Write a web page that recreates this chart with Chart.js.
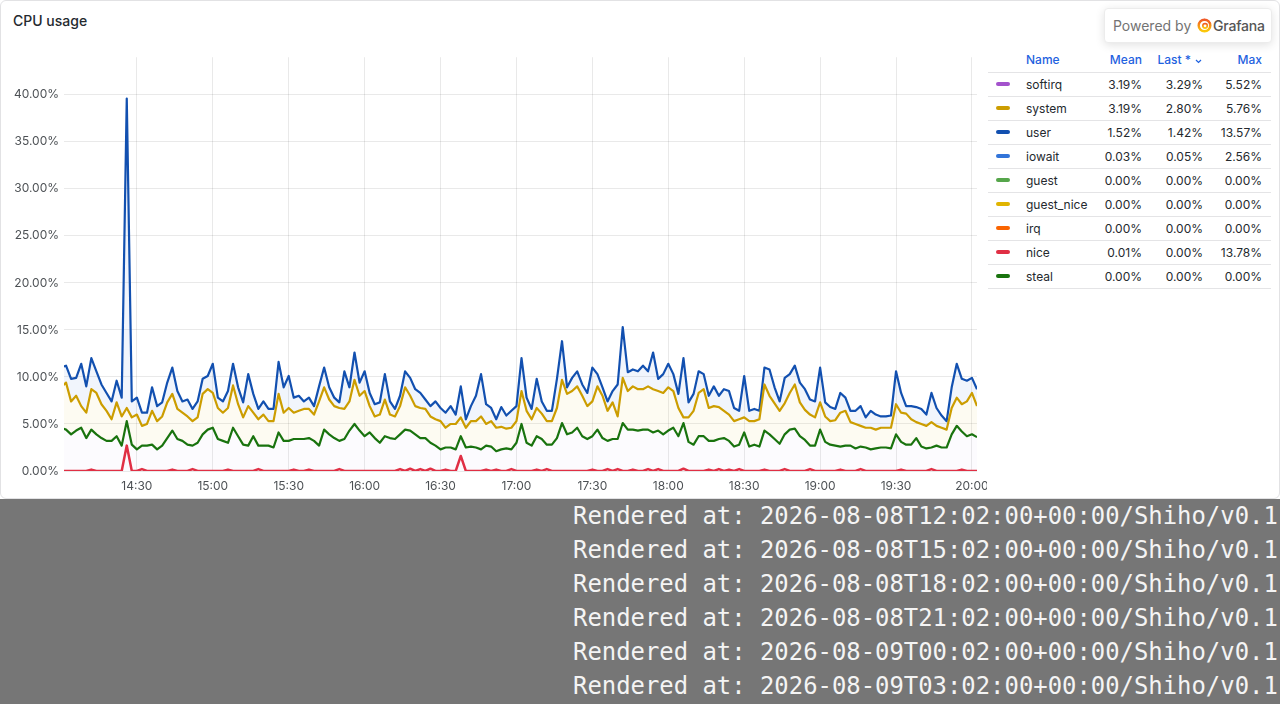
<!DOCTYPE html>
<html>
<head>
<meta charset="utf-8">
<script src="https://cdn.jsdelivr.net/npm/chart.js@4.4.1/dist/chart.umd.min.js"></script>
<style>
  html, body { margin:0; padding:0; background:#ffffff; width:1280px; height:704px; overflow:hidden; font-family: Inter, "Noto Sans", sans-serif; }
  #panel { position:absolute; left:0; top:0; width:1278px; height:497px; border:1px solid #e2e2e4; border-radius:6px; background:#fff; overflow:hidden; }
  #title { position:absolute; left:12px; top:11px; font-size:14px; font-weight:500; color:#24292e; }
  #chartwrap { position:absolute; left:-1px; top:44px; width:987px; height:454px; overflow:hidden; }
  #badge { position:absolute; left:1103px; top:7px; width:166px; height:33px; border:1px solid #ececec; border-radius:4px; background:#fff; box-shadow:0 2px 10px rgba(0,0,0,0.12); font-size:14px; color:#737373; }
  #badge .pb { position:absolute; left:8px; top:8px; }
  #badge svg { position:absolute; left:92px; top:9px; }
  #badge .gf { position:absolute; left:108px; top:8px; color:#555; font-weight:500; letter-spacing:-0.2px; }
  #legend { position:absolute; left:987px; top:46px; width:283px; border-collapse:collapse; table-layout:fixed; font-size:12px; color:#24292e; }
  #legend th, #legend td { box-sizing:border-box; padding:0; white-space:nowrap; }
  #legend th { height:25px; font-weight:500; color:#1f62e0; border-bottom:1px solid #e4e4e6; }
  #legend td { height:24px; border-bottom:1px solid #e4e4e6; }
  #legend .c1 { width:30px; }
  #legend .c2 { width:82px; text-align:left; padding-left:8px; }
  #legend .c3 { width:50px; text-align:right; padding-right:8px; }
  #legend .c4 { width:61px; text-align:right; padding-right:8px; }
  #legend .c5 { width:60px; text-align:right; padding-right:9px; }
  .sw { display:block; margin-left:8px; width:14px; height:4px; border-radius:2px; }
  #footer { position:absolute; left:0; top:499px; width:1280px; height:205px; background:#767676; overflow:hidden; }
  #footer .ln { position:absolute; left:573px; white-space:pre; font-family:"DejaVu Sans Mono", monospace; font-size:23.9px; line-height:34px; color:#f4f4f4; }
</style>
</head>
<body>
<div id="panel">
  <div id="title">CPU usage</div>
  <div id="chartwrap"><canvas id="c" width="1000" height="454" style="width:1000px;height:454px"></canvas></div>
  <div id="badge"><span class="pb">Powered by</span>
    <svg width="15" height="15" viewBox="0 0 16 16"><defs><linearGradient id="gg" x1="0" y1="1" x2="0" y2="0"><stop offset="0" stop-color="#fbca0a"/><stop offset="1" stop-color="#f05a28"/></linearGradient></defs><circle cx="8" cy="8" r="6.2" fill="none" stroke="url(#gg)" stroke-width="2.6"/><circle cx="8.6" cy="8.3" r="2.4" fill="none" stroke="url(#gg)" stroke-width="1.8"/><path d="M8 0.6 L9.4 2.6 L6.6 2.6 Z M14.6 5 L13 6.6 L12.6 4 Z" fill="#f05a28"/></svg>
    <span class="gf">Grafana</span></div>
  <table id="legend"><thead></thead><tbody></tbody></table>
</div>
<div id="footer"></div>
<script>
// ---- time grid (minutes since midnight) ----
const START_MIN = 840;   // 14:00
const STEP_MIN = 2;
const X_MIN = 841.2;
const X_MAX = 1202;
const Y_MAX = 44;
const xTickMinutes = [870, 900, 930, 960, 990, 1020, 1050, 1080, 1110, 1140, 1170, 1200];
const yTickValues = [0, 5, 10, 15, 20, 25, 30, 35, 40];

// ---- series values (%) ----
const userVals = [
 11.0,11.2,9.8,9.9,11.4,9.0,12.0,10.6,9.2,8.3, 7.4,9.6,7.8,39.6,7.4,7.8,6.2,6.2,8.9,6.9,
 7.3,9.4,11.0,8.5,7.4,7.6,6.6,7.4,9.8,10.1, 11.4,7.8,7.4,8.5,11.4,8.9,7.3,10.3,8.2,6.6,
 7.4,6.6,6.6,11.6,8.9,10.1,7.8,8.0,7.4,7.8, 6.9,9.0,11.0,8.9,7.8,7.3,10.6,8.9,12.6,9.4,
 10.6,8.3,7.1,7.3,10.3,7.4,6.6,8.0,10.6,9.9, 8.7,8.3,7.6,6.9,7.4,6.7,6.2,6.9,6.0,9.0,
 5.5,6.9,8.0,10.3,7.1,6.7,5.5,6.8,5.9,6.4, 6.9,12.0,7.8,6.6,9.8,7.4,6.4,6.4,9.8,13.8,
 8.9,9.9,10.6,9.2,8.3,11.0,10.3,8.9,7.4,8.5, 9.2,15.3,10.5,10.8,10.6,11.2,10.6,12.6,9.8,10.3,
 11.4,10.3,8.2,12.0,7.3,8.2,10.6,10.3,8.0,9.0, 8.0,8.7,8.5,6.7,6.4,10.1,6.4,6.6,6.4,11.0,
 10.8,8.9,7.4,9.9,10.3,11.2,9.4,8.7,7.6,7.4, 11.0,7.3,6.8,6.6,8.3,7.8,6.4,6.4,6.9,5.7,
 6.4,6.0,5.8,5.8,5.9,10.6,8.3,6.9,6.9,6.8, 6.6,6.0,8.3,6.7,5.9,5.3,8.9,11.4,9.8,9.6,
 9.9,8.7
];
const systemVals = [
 8.9,9.4,7.4,8.0,6.9,6.2,8.7,8.3,7.1,6.4, 5.5,7.3,5.8,6.7,5.7,6.0,4.8,5.0,6.4,5.3,
 5.8,7.3,8.2,6.6,6.2,5.8,5.3,5.7,8.2,8.7, 8.3,6.7,6.2,6.7,9.1,7.1,5.7,6.9,6.2,5.5,
 6.0,5.3,5.3,8.2,6.2,6.7,6.2,6.4,6.6,6.6, 6.0,7.4,8.9,7.6,6.9,6.7,6.6,7.4,9.7,8.0,
 8.5,6.9,5.8,6.0,7.6,6.0,5.8,6.9,8.9,8.0, 6.9,6.7,6.6,5.8,5.5,5.3,4.6,5.0,5.0,5.7,
 4.6,5.3,5.3,5.8,5.0,5.3,4.6,4.7,4.5,4.6, 5.3,8.5,6.4,5.5,6.7,6.1,5.3,5.3,6.7,9.7,
 8.2,8.5,9.0,8.0,6.9,7.4,9.0,8.0,6.4,7.3, 5.8,9.9,8.5,9.0,8.7,8.7,9.0,8.7,8.5,8.3,
 8.9,8.5,6.7,5.7,5.7,6.4,8.3,8.7,6.7,6.9, 6.8,6.4,6.0,5.3,5.5,5.7,5.3,5.3,5.5,9.2,
 8.0,7.2,6.4,7.2,8.3,9.2,7.3,6.5,6.0,5.7, 7.3,5.8,5.3,5.4,6.2,6.4,5.2,5.0,4.8,4.6,
 4.6,4.4,4.6,4.6,4.6,7.1,6.2,6.1,5.5,5.2, 5.0,4.8,5.2,4.8,4.6,4.4,6.7,7.8,7.1,7.4,
 8.3,6.9
];
const stealVals = [
 4.6,4.4,3.9,4.3,4.6,3.5,4.4,3.9,3.5,3.2, 3.2,3.7,2.7,5.3,2.8,2.3,2.7,2.7,2.8,2.3,
 2.7,3.5,4.3,3.4,3.2,2.8,2.7,3.0,3.9,4.4, 4.6,3.4,3.2,3.0,4.6,3.7,2.8,2.7,3.7,2.7,
 2.7,2.7,2.5,4.1,3.2,3.2,3.4,3.4,3.4,3.5, 3.2,2.7,4.4,3.9,3.5,3.2,3.4,4.3,5.0,4.3,
 3.7,4.1,3.5,3.0,3.7,3.5,3.4,3.9,4.4,4.3, 3.9,3.5,3.5,3.0,2.7,2.3,2.5,2.5,2.3,3.7,
 2.5,2.6,2.5,2.3,2.7,2.6,2.1,2.3,2.4,2.3, 3.0,5.0,3.0,2.7,3.7,3.4,2.8,2.8,3.5,5.1,
 3.9,4.1,4.6,3.7,3.4,3.7,4.4,3.5,3.2,3.4, 3.4,5.1,4.4,4.4,4.3,4.4,4.4,4.1,4.3,3.9,
 4.3,4.6,3.7,5.1,3.1,2.8,3.7,3.7,3.2,3.2, 3.4,3.5,3.2,2.6,2.8,4.1,2.6,2.8,2.6,4.3,
 3.9,3.4,2.9,3.9,4.4,4.5,3.7,3.3,2.7,2.7, 4.4,3.1,2.8,2.7,2.6,2.7,2.7,2.4,2.6,2.5,
 2.3,2.4,2.5,2.5,2.4,3.9,3.1,2.8,2.8,3.5, 2.6,2.4,2.5,2.7,2.5,2.5,3.9,4.8,4.2,3.7,
 3.9,3.6
];
const niceVals = [
 0,0,0,0,0,0,0.15,0,0,0, 0,0,0,2.7,0,0,0.2,0,0,0,
 0,0,0.15,0,0,0,0.2,0,0,0, 0,0,0,0.15,0,0,0,0,0,0.2,
 0,0,0,0,0,0,0.15,0,0,0.15, 0,0,0,0,0,0.2,0,0,0,0,
 0,0,0,0,0,0,0,0.2,0,0.25, 0,0.2,0,0.25,0,0,0.15,0,0,1.6,
 0,0,0,0,0.15,0,0.15,0,0,0.2, 0,0,0,0,0.15,0,0.2,0,0,0,
 0,0,0,0,0,0.15,0,0,0.2,0, 0.2,0,0,0.15,0,0,0.2,0,0.2,0,
 0,0,0,0.25,0,0,0,0,0.15,0, 0.2,0,0.15,0,0.2,0,0,0,0,0.15,
 0,0,0,0.2,0,0,0,0,0.2,0, 0,0,0,0,0.15,0,0,0,0.2,0,
 0,0,0,0,0,0,0.15,0,0,0, 0,0,0.2,0,0,0,0,0,0.15,0,
 0,0
];

// ---- legend table ----
const legendNames  = ['softirq','system','user','iowait','guest','guest_nice','irq','nice','steal'];
const legendColors = ['#A352CC','#CC9D00','#1250B0','#3274D9','#56A64B','#E0B400','#FA6400','#E02F44','#19730E'];
const legendMean   = ['3.19%','3.19%','1.52%','0.03%','0.00%','0.00%','0.00%','0.01%','0.00%'];
const legendLast   = ['3.29%','2.80%','1.42%','0.05%','0.00%','0.00%','0.00%','0.00%','0.00%'];
const legendMax    = ['5.52%','5.76%','13.57%','2.56%','0.00%','0.00%','0.00%','13.78%','0.00%'];

const footerLines = [
 'Rendered at: 2026-08-08T12:02:00+00:00/Shiho/v0.1',
 'Rendered at: 2026-08-08T15:02:00+00:00/Shiho/v0.1',
 'Rendered at: 2026-08-08T18:02:00+00:00/Shiho/v0.1',
 'Rendered at: 2026-08-08T21:02:00+00:00/Shiho/v0.1',
 'Rendered at: 2026-08-09T00:02:00+00:00/Shiho/v0.1',
 'Rendered at: 2026-08-09T03:02:00+00:00/Shiho/v0.1'
];

const colorOf = n => legendColors[legendNames.indexOf(n)];
const times = userVals.map((_, i) => START_MIN + i * STEP_MIN);
const pts = arr => arr.map((v, i) => ({ x: times[i], y: v }));
const hhmm = v => { const h = Math.floor(v / 60), m = Math.round(v % 60); return String(h).padStart(2,'0') + ':' + String(m).padStart(2,'0'); };

// legend html
const thead = document.querySelector('#legend thead');
thead.innerHTML = '<tr><th class="c1"></th><th class="c2">Name</th><th class="c3">Mean</th>' +
  '<th class="c4">Last *<svg width="9" height="8" viewBox="0 0 9 8" style="margin-left:3px;vertical-align:-1px"><path d="M2 3 L4.5 5.5 L7 3" fill="none" stroke="#1f62e0" stroke-width="1.2"/></svg></th>' +
  '<th class="c5">Max</th></tr>';
const tbody = document.querySelector('#legend tbody');
tbody.innerHTML = legendNames.map((n, i) =>
  '<tr><td class="c1"><span class="sw" style="background:' + legendColors[i] + '"></span></td>' +
  '<td class="c2">' + n + '</td><td class="c3">' + legendMean[i] + '</td>' +
  '<td class="c4">' + legendLast[i] + '</td><td class="c5">' + legendMax[i] + '</td></tr>').join('');

document.getElementById('footer').innerHTML = footerLines.map((t, i) =>
  '<div class="ln" style="top:' + (i * 34) + 'px">' + t + '</div>').join('');

const tickFont = { family: 'Inter', size: 12 };
const tickColor = 'rgba(36,41,46,0.82)';
const gridColor = 'rgba(0,0,0,0.085)';

new Chart(document.getElementById('c'), {
  type: 'line',
  data: {
    datasets: [
      { label: 'nice', data: pts(niceVals), borderColor: colorOf('nice'), borderWidth: 2.5, fill: false },
      { label: 'steal', data: pts(stealVals), borderColor: colorOf('steal'), borderWidth: 2.2, fill: 'origin', backgroundColor: 'rgba(110,90,220,0.025)' },
      { label: 'system', data: pts(systemVals), borderColor: colorOf('system'), borderWidth: 2.2, fill: 1, backgroundColor: 'rgba(224,180,0,0.05)' },
      { label: 'user', data: pts(userVals), borderColor: colorOf('user'), borderWidth: 2.2, fill: 2, backgroundColor: 'rgba(50,116,217,0.07)' }
    ]
  },
  options: {
    responsive: false,
    animation: false,
    maintainAspectRatio: false,
    layout: { padding: { top: 8, right: 23, left: 0, bottom: 0 } },
    plugins: { legend: { display: false }, tooltip: { enabled: false } },
    elements: { point: { radius: 0 }, line: { tension: 0, borderJoinStyle: 'round' } },
    scales: {
      x: {
        type: 'linear', min: X_MIN, max: X_MAX,
        afterBuildTicks: s => { s.ticks = xTickMinutes.map(v => ({ value: v })); },
        afterFit: s => { s.height = 28; },
        ticks: { autoSkip: false, maxRotation: 0, padding: 8, color: tickColor, font: tickFont, callback: v => hhmm(v) },
        grid: { color: gridColor, drawTicks: false },
        border: { display: false }
      },
      y: {
        min: 0, max: Y_MAX,
        afterBuildTicks: s => { s.ticks = yTickValues.map(v => ({ value: v })); },
        afterFit: s => { s.width = 64; },
        ticks: { padding: 5, color: tickColor, font: tickFont, callback: v => v.toFixed(2) + '%' },
        grid: { color: gridColor, drawTicks: false },
        border: { display: false }
      }
    }
  }
});
</script>
</body>
</html>
